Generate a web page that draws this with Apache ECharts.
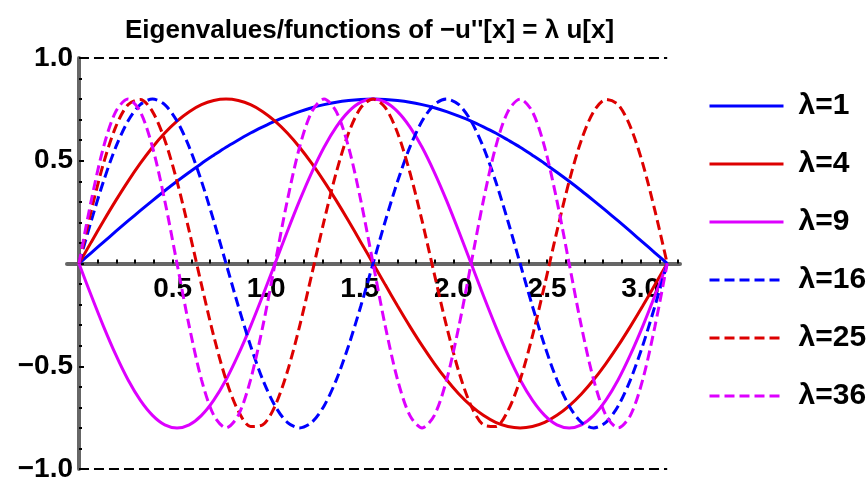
<!DOCTYPE html>
<html style="height: 100%">
<head>
    <meta charset="UTF-8">
    <script src="https://cdn.jsdelivr.net/npm/echarts@6/dist/echarts.min.js"></script>
    <style type="text/css">
        html, body { margin: 0; padding: 0; background: #ffffff; }
    </style>
</head>
<body>
    <div id="paint" style="width: 866px; height: 483px;"></div>
<script>
    // x positions (0 .. pi)
    var xs = [0, 0.0654, 0.1309, 0.1963, 0.2618, 0.3272, 0.3927, 0.4581, 0.5236, 0.5890, 0.6545, 0.7199, 0.7854, 0.8508, 0.9163, 0.9817, 1.0472, 1.1126, 1.1781, 1.2435, 1.3090, 1.3744, 1.4399, 1.5053, 1.5708, 1.6362, 1.7017, 1.7671, 1.8326, 1.8980, 1.9635, 2.0289, 2.0944, 2.1598, 2.2253, 2.2907, 2.3562, 2.4216, 2.4871, 2.5525, 2.6180, 2.6834, 2.7489, 2.8143, 2.8798, 2.9452, 3.0107, 3.0761, 3.1416];

    var u1 = [0, 0.052, 0.104, 0.156, 0.207, 0.257, 0.306, 0.354, 0.4, 0.444, 0.487, 0.527, 0.566, 0.601, 0.635, 0.665, 0.693, 0.717, 0.739, 0.758, 0.773, 0.785, 0.793, 0.798, 0.8, 0.798, 0.793, 0.785, 0.773, 0.758, 0.739, 0.717, 0.693, 0.665, 0.635, 0.601, 0.566, 0.527, 0.487, 0.444, 0.4, 0.354, 0.306, 0.257, 0.207, 0.156, 0.104, 0.052, 0];
    var u4 = [0, 0.104, 0.207, 0.306, 0.4, 0.487, 0.566, 0.635, 0.693, 0.739, 0.773, 0.793, 0.8, 0.793, 0.773, 0.739, 0.693, 0.635, 0.566, 0.487, 0.4, 0.306, 0.207, 0.104, 0, -0.104, -0.207, -0.306, -0.4, -0.487, -0.566, -0.635, -0.693, -0.739, -0.773, -0.793, -0.8, -0.793, -0.773, -0.739, -0.693, -0.635, -0.566, -0.487, -0.4, -0.306, -0.207, -0.104, 0];
    var u9 = [0, -0.156, -0.306, -0.444, -0.566, -0.665, -0.739, -0.785, -0.8, -0.785, -0.739, -0.665, -0.566, -0.444, -0.306, -0.156, 0, 0.156, 0.306, 0.444, 0.566, 0.665, 0.739, 0.785, 0.8, 0.785, 0.739, 0.665, 0.566, 0.444, 0.306, 0.156, 0, -0.156, -0.306, -0.444, -0.566, -0.665, -0.739, -0.785, -0.8, -0.785, -0.739, -0.665, -0.566, -0.444, -0.306, -0.156, 0];
    var u16 = [0, 0.207, 0.4, 0.566, 0.693, 0.773, 0.8, 0.773, 0.693, 0.566, 0.4, 0.207, 0, -0.207, -0.4, -0.566, -0.693, -0.773, -0.8, -0.773, -0.693, -0.566, -0.4, -0.207, 0, 0.207, 0.4, 0.566, 0.693, 0.773, 0.8, 0.773, 0.693, 0.566, 0.4, 0.207, 0, -0.207, -0.4, -0.566, -0.693, -0.773, -0.8, -0.773, -0.693, -0.566, -0.4, -0.207, 0];
    var u25 = [0, 0.257, 0.487, 0.665, 0.773, 0.798, 0.739, 0.601, 0.4, 0.156, -0.104, -0.354, -0.566, -0.717, -0.793, -0.785, -0.693, -0.527, -0.306, -0.052, 0.207, 0.444, 0.635, 0.758, 0.8, 0.758, 0.635, 0.444, 0.207, -0.052, -0.306, -0.527, -0.693, -0.785, -0.793, -0.717, -0.566, -0.354, -0.104, 0.156, 0.4, 0.601, 0.739, 0.798, 0.773, 0.665, 0.487, 0.257, 0];
    var u36 = [0, 0.306, 0.566, 0.739, 0.8, 0.739, 0.566, 0.306, 0, -0.306, -0.566, -0.739, -0.8, -0.739, -0.566, -0.306, 0, 0.306, 0.566, 0.739, 0.8, 0.739, 0.566, 0.306, 0, -0.306, -0.566, -0.739, -0.8, -0.739, -0.566, -0.306, 0, 0.306, 0.566, 0.739, 0.8, 0.739, 0.566, 0.306, 0, -0.306, -0.566, -0.739, -0.8, -0.739, -0.566, -0.306, 0];

    var names = ['λ=1', 'λ=4', 'λ=9', 'λ=16', 'λ=25', 'λ=36'];
    var xLabels = [0.5, 1.0, 1.5, 2.0, 2.5, 3.0];
    var xTicks = [0.1, 0.2, 0.3, 0.4, 0.5, 0.6, 0.7, 0.8, 0.9, 1.0, 1.1, 1.2, 1.3, 1.4, 1.5, 1.6, 1.7, 1.8, 1.9, 2.0, 2.1, 2.2, 2.3, 2.4, 2.5, 2.6, 2.7, 2.8, 2.9, 3.0, 3.1, 3.2];
    var frameY = [1, -1];
    var frameX = [0, 3.1416];

    var FONT = 'Liberation Sans';
    var X_MIN = -0.064, X_MAX = 3.21;
    // grid: left 67, right 186, top 58, bottom 12 -> zero lines sit at x=79, y=264.5
    var GRID = { left: 67, right: 186, top: 58, bottom: 12 };

    function pairs(ys) {
        return xs.map(function (x, i) { return [x, ys[i]]; });
    }

    function curve(name, ys, color, dashed) {
        return {
            name: name,
            type: 'line',
            data: pairs(ys),
            smooth: 0.3,
            symbol: 'none',
            clip: false,
            lineStyle: { color: color, width: 3, type: dashed ? [10, 5] : 'solid' },
            itemStyle: { color: color }
        };
    }

    var series = [
        curve(names[0], u1, '#0000ff', false),
        curve(names[1], u4, '#dd0000', false),
        curve(names[2], u9, '#dd00ff', false),
        curve(names[3], u16, '#0000ff', true),
        curve(names[4], u25, '#dd0000', true),
        curve(names[5], u36, '#dd00ff', true),
        {
            name: 'frame',
            type: 'line',
            data: [],
            silent: true,
            markLine: {
                silent: true,
                symbol: 'none',
                animation: false,
                label: { show: false },
                lineStyle: { color: '#000000', width: 2, type: [10, 5] },
                data: frameY.map(function (y) {
                    return [{ coord: [frameX[0], y] }, { coord: [frameX[1], y] }];
                })
            }
        }
    ];

    var labelFont = { fontFamily: FONT, fontSize: 28, fontWeight: 'bold', color: '#000000' };

    echarts.init(document.getElementById('paint')).setOption({
        backgroundColor: '#ffffff',
        animation: false,
        title: {
            text: 'Eigenvalues/functions of −u\'\'[x] = λ u[x]',
            left: 120,
            top: 13,
            textStyle: { fontFamily: FONT, fontSize: 26, fontWeight: 'bold', color: '#000000' }
        },
        grid: GRID,
        legend: {
            data: names,
            orient: 'vertical',
            left: 703,
            top: 86,
            itemWidth: 74,
            itemHeight: 14,
            itemGap: 28,
            itemStyle: { opacity: 0 },
            lineStyle: { width: 3 },
            textStyle: { fontFamily: FONT, fontSize: 30, fontWeight: 'bold', color: '#000000', padding: [0, 0, 0, 10] }
        },
        xAxis: [
            {
                type: 'value',
                min: X_MIN,
                max: X_MAX,
                position: 'bottom',
                axisLine: { onZero: true, lineStyle: { color: '#666666', width: 4 } },
                axisTick: { show: true, inside: true, length: 4, customValues: xTicks, lineStyle: { color: '#000000', width: 2 } },
                axisLabel: { show: false },
                splitLine: { show: false }
            },
            {
                // labels only, moved up to the zero line
                type: 'value',
                min: X_MIN,
                max: X_MAX,
                position: 'bottom',
                offset: -206.5,
                axisLine: { show: false, onZero: false },
                axisTick: { show: false },
                axisLabel: Object.assign({
                    customValues: xLabels,
                    margin: 13,
                    formatter: function (v) { return v.toFixed(1); }
                }, labelFont),
                splitLine: { show: false }
            }
        ],
        yAxis: [
            {
                type: 'value',
                min: -1,
                max: 1,
                interval: 0.5,
                position: 'left',
                axisLine: { show: true, onZero: true, lineStyle: { color: '#666666', width: 4 } },
                axisTick: { show: true, inside: true, length: 5, lineStyle: { color: '#000000', width: 2 } },
                minorTick: { show: true, splitNumber: 5, length: 3, lineStyle: { color: '#000000', width: 2 } },
                axisLabel: { show: false },
                splitLine: { show: false }
            },
            {
                // labels only, moved right to the zero line
                type: 'value',
                min: -1,
                max: 1,
                interval: 0.5,
                position: 'left',
                offset: -12,
                axisLine: { show: false, onZero: false },
                axisTick: { show: false },
                axisLabel: Object.assign({
                    margin: 6,
                    formatter: function (v) {
                        if (v === 0) { return ''; }
                        return (v < 0 ? '−' : '') + Math.abs(v).toFixed(1);
                    }
                }, labelFont),
                splitLine: { show: false }
            }
        ],
        series: series
    });
</script>
</body>
</html>
